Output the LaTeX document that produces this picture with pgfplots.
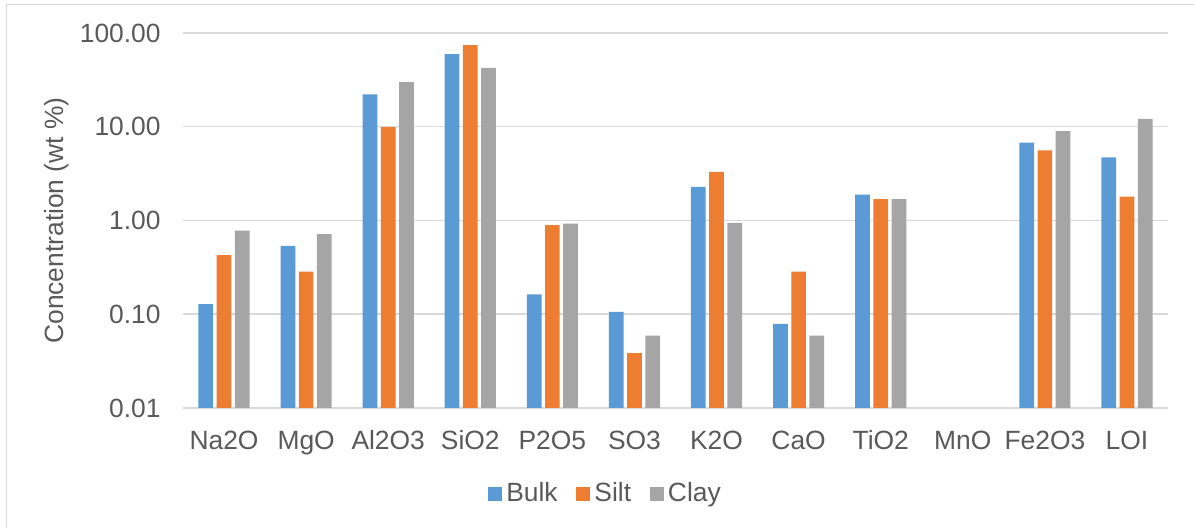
\documentclass[border=0pt]{standalone}
\usepackage{fontspec}
\setmainfont{Liberation Sans}
\usepackage{pgfplots}
\pgfplotsset{compat=1.18}

\definecolor{bulkc}{HTML}{5B9BD5}
\definecolor{siltc}{HTML}{ED7D31}
\definecolor{clayc}{HTML}{A5A5A5}
\definecolor{txtc}{HTML}{595959}
\definecolor{gridc}{HTML}{D9D9D9}

% x: 0 Na2O, 1 MgO, 2 Al2O3, 3 SiO2, 4 P2O5, 5 SO3, 6 K2O, 7 CaO, 8 TiO2, 9 MnO, 10 Fe2O3, 11 LOI
% (no MnO values)

\begin{document}
\begin{tikzpicture}
\useasboundingbox (0,0) rectangle (597pt,264pt);
\draw[gridc, line width=0.75pt] (3.3pt,0) -- (3.3pt,261.7pt) -- (597pt,261.7pt);
\begin{axis}[
  at={(91.5pt,60pt)}, anchor=south west,
  scale only axis, width=492.5pt, height=187.5pt,
  ymode=log, log origin=infty,
  ymin=0.01, ymax=100,
  xmin=-0.5, xmax=11.5,
  ybar=1.75pt, bar width=7.35pt,
  xtick={0,...,11},
  xticklabels={Na2O,MgO,Al2O3,SiO2,P2O5,SO3,K2O,CaO,TiO2,MnO,Fe2O3,LOI},
  ytick={0.01,0.1,1,10,100},
  yticklabels={0.01,0.10,1.00,10.00,100.00},
  yminorticks=false,
  ymajorgrids, grid style={gridc, line width=0.75pt},
  axis x line*=bottom, axis y line*=left,
  x axis line style={gridc, line width=0.75pt, -},
  y axis line style={draw=none},
  major tick length=0pt, minor tick length=0pt,
  tick label style={font=\fontsize{13.2}{15}\selectfont, text=txtc},
  yticklabel style={anchor=east, inner sep=0pt, xshift=-11pt},
  xticklabel style={anchor=base, inner sep=0pt, yshift=-21pt},
  ylabel={Concentration (wt \%)},
  ylabel style={font=\fontsize{13.2}{15}\selectfont, text=txtc, at={(axis description cs:-0.128,0.5)}, anchor=center},
  legend columns=3,
  legend style={at={(axis description cs:0.43,-0.229)}, anchor=center, draw=none, fill=none,
    font=\fontsize{13.2}{15}\selectfont, text=txtc, inner sep=0pt,
    nodes={inner sep=2.2pt},
    /tikz/every even column/.append style={column sep=7pt}},
  legend image code/.code={\fill[#1] (0pt,-3.4pt) rectangle (7pt,3.4pt);},
]
\addplot[fill=bulkc, draw=none] coordinates {
  (0,0.128) (1,0.537) (2,22.2) (3,59.5) (4,0.163) (5,0.106)
  (6,2.28) (7,0.0788) (8,1.89) (10,6.75) (11,4.71)};
\addplot[fill=siltc, draw=none] coordinates {
  (0,0.426) (1,0.284) (2,9.9) (3,74.2) (4,0.895) (5,0.0384)
  (6,3.30) (7,0.285) (8,1.69) (10,5.60) (11,1.80)};
\addplot[fill=clayc, draw=none] coordinates {
  (0,0.78) (1,0.717) (2,29.9) (3,42.5) (4,0.925) (5,0.059)
  (6,0.945) (7,0.0592) (8,1.69) (10,8.99) (11,12.1)};
\legend{Bulk,Silt,Clay}
\end{axis}
\end{tikzpicture}
\end{document}
